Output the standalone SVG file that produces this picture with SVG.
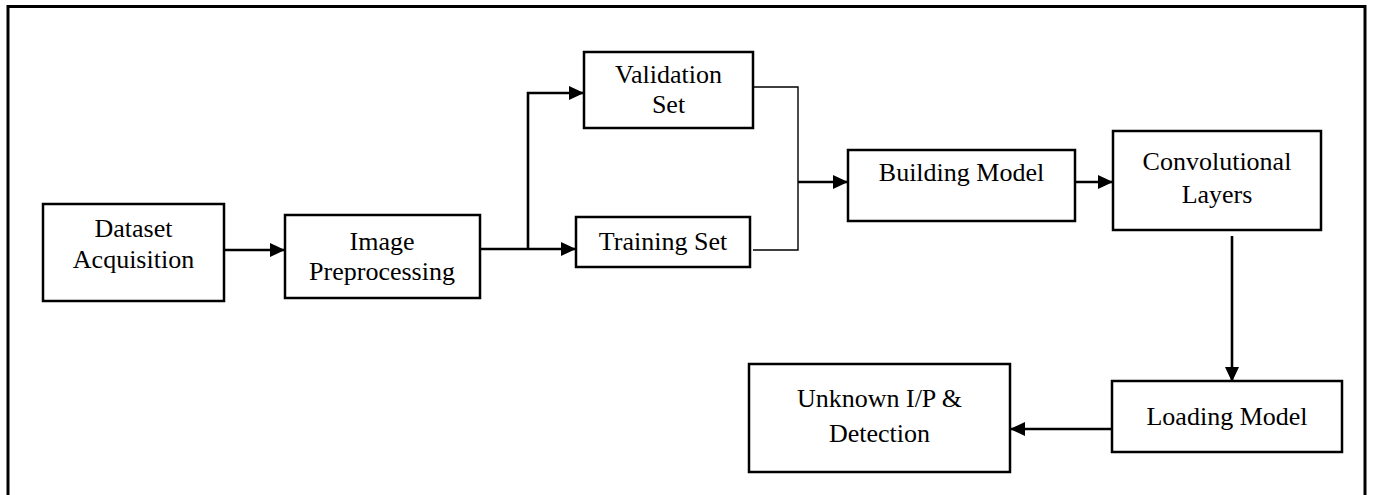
<svg xmlns="http://www.w3.org/2000/svg" width="1373" height="495" viewBox="0 0 1373 495">
<style>
.box{fill:#fff;stroke:#000;stroke-width:2.5}
.t{font-family:"Liberation Serif","Times New Roman",serif;font-size:26px;fill:#000;text-anchor:middle}
.c{fill:none;stroke:#000;stroke-width:2.6}
.thin{fill:none;stroke:#000;stroke-width:1.4}
</style>
<defs>
<marker id="ah" markerWidth="15" markerHeight="14" refX="15" refY="7" orient="auto" markerUnits="userSpaceOnUse">
<path d="M0,0 L15,7 L0,14 Z" fill="#000"/>
</marker>
</defs>
<rect x="0" y="0" width="1373" height="495" fill="#fff"/>
<rect x="8" y="6.5" width="1357" height="500" fill="none" stroke="#000" stroke-width="3"/>
<g id="connectors">
<line class="c" x1="224" y1="250" x2="285" y2="250" marker-end="url(#ah)"/>
<line class="c" x1="480" y1="249" x2="576" y2="249" marker-end="url(#ah)"/>
<polyline class="c" points="528,249 528,93 584,93" marker-end="url(#ah)"/>
<polyline class="thin" points="753,87 798,87 798,250 753,250"/>
<line class="c" x1="798" y1="182" x2="848" y2="182" marker-end="url(#ah)"/>
<line class="c" x1="1075" y1="182" x2="1113" y2="182" marker-end="url(#ah)"/>
<line class="c" x1="1232" y1="236" x2="1232" y2="382" marker-end="url(#ah)"/>
<line class="c" x1="1112" y1="429" x2="1010" y2="429" marker-end="url(#ah)"/>
</g>
<g id="dataset">
<rect class="box" x="43" y="204" width="181" height="97"/>
<text class="t" x="133.5" y="237">Dataset</text>
<text class="t" x="133.5" y="268">Acquisition</text>
</g>
<g id="preprocessing">
<rect class="box" x="285" y="215" width="195" height="83"/>
<text class="t" x="382" y="250">Image</text>
<text class="t" x="382" y="280">Preprocessing</text>
</g>
<g id="validation">
<rect class="box" x="584" y="52" width="169" height="76"/>
<text class="t" x="668.5" y="83">Validation</text>
<text class="t" x="668.5" y="113">Set</text>
</g>
<g id="training">
<rect class="box" x="576" y="217" width="174" height="50"/>
<text class="t" x="663" y="250">Training Set</text>
</g>
<g id="building">
<rect class="box" x="848" y="150" width="227" height="71"/>
<text class="t" x="961.5" y="181">Building Model</text>
</g>
<g id="convolutional">
<rect class="box" x="1113" y="131" width="208" height="99"/>
<text class="t" x="1217" y="170">Convolutional</text>
<text class="t" x="1217" y="203">Layers</text>
</g>
<g id="loading">
<rect class="box" x="1112" y="381" width="230" height="71"/>
<text class="t" x="1227" y="425">Loading Model</text>
</g>
<g id="unknown">
<rect class="box" x="749" y="364" width="261" height="108"/>
<text class="t" x="879.5" y="407">Unknown I/P &amp;</text>
<text class="t" x="879.5" y="442">Detection</text>
</g>
</svg>
